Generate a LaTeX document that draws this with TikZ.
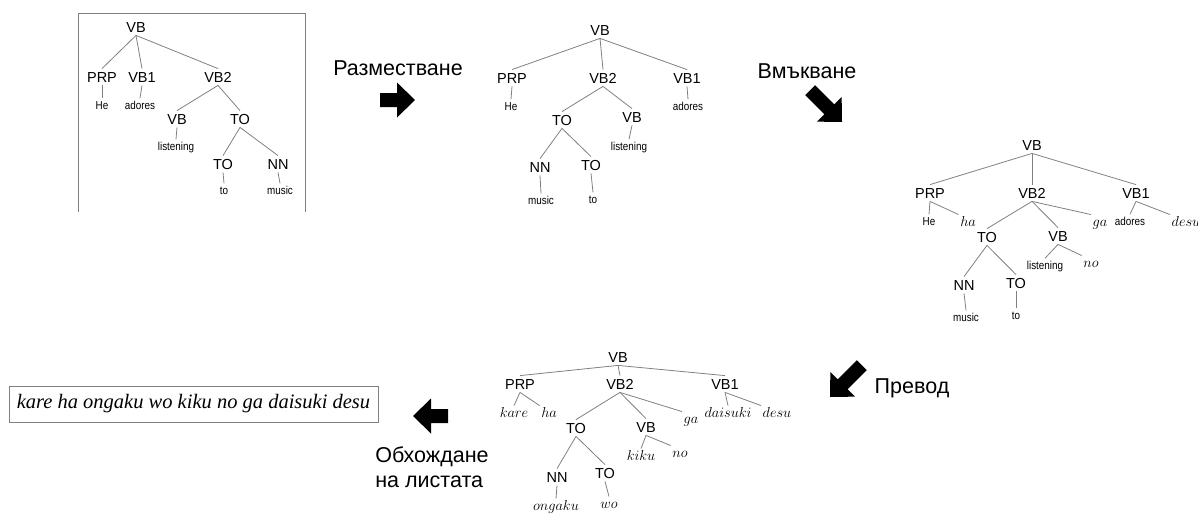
\documentclass[tikz,border=0pt]{standalone}
\usepackage{fontspec}
\newfontfamily\sansfam{Liberation Sans}
\newfontfamily\narrowfam[FakeStretch=0.86]{Liberation Sans}
\newfontfamily\seriffam{Liberation Serif}
\begin{document}
\begin{tikzpicture}[x=1pt,y=-1pt,
  cat/.style={font=\sansfam\fontsize{14.5}{14.5}\selectfont, text height=10.4pt, text depth=0pt, inner xsep=1pt, inner ysep=3pt},
  leaf/.style={font=\narrowfam\fontsize{11.5}{11.5}\selectfont, text height=8pt, text depth=2pt, inner xsep=1pt, inner ysep=2.5pt},
  jp/.style={font=\fontsize{14}{14}\selectfont, text height=9.5pt, text depth=3pt, inner xsep=1.5pt, inner ysep=2pt},
  branch/.style={draw=black!50, line width=0.8pt},
  steplabel/.style={font=\sansfam\fontsize{21.5}{25}\selectfont, inner sep=0pt},
  % block arrow with its tip at the origin; the argument is the shaft length
  blockarrow/.pic={\fill[black] (0,0) -- (-18,-17.5) -- (-18,-7) -- (-18-#1,-7) -- (-18-#1,7) -- (-18,7) -- (-18,17.5) -- cycle;}
]
\useasboundingbox (0,0) rectangle (1198,514);

% ---------- tree 1: source parse ----------
\draw[black!50, line width=0.8pt] (78,212) -- (78,13) -- (305,13) -- (305,212);
\node[cat] (a-vb) at (136,27) {VB};
\node[cat] (a-prp) at (102,77) {PRP};
\node[cat] (a-vb1) at (142,77) {VB1};
\node[cat] (a-vb2) at (218,77) {VB2};
\node[leaf] (a-he) at (102,106) {He};
\node[leaf] (a-adores) at (140,106) {adores};
\node[cat] (a-vbb) at (177,119) {VB};
\node[cat] (a-to) at (240,119) {TO};
\node[leaf] (a-listening) at (176,147) {listening};
\node[cat] (a-toc) at (223,164) {TO};
\node[cat] (a-nn) at (278,164) {NN};
\node[leaf] (a-tow) at (224,191) {to};
\node[leaf] (a-music) at (280,191) {music};
\foreach \p/\c in {vb/prp, vb/vb1, vb/vb2, prp/he, vb1/adores, vb2/vbb, vb2/to,
                   vbb/listening, to/toc, to/nn, toc/tow, nn/music}
  \draw[branch] (a-\p.south) -- (a-\c.north);

% ---------- tree 2: reordered ----------
\node[cat] (b-vb) at (600,30) {VB};
\node[cat] (b-prp) at (512,78) {PRP};
\node[cat] (b-vb2) at (603,78) {VB2};
\node[cat] (b-vb1) at (687,78) {VB1};
\node[leaf] (b-he) at (511,107) {He};
\node[leaf] (b-adores) at (688,107) {adores};
\node[cat] (b-to) at (562,120) {TO};
\node[cat] (b-vbb) at (632,117) {VB};
\node[leaf] (b-listening) at (629,147) {listening};
\node[cat] (b-nn) at (540,167) {NN};
\node[cat] (b-toc) at (591,165) {TO};
\node[leaf] (b-music) at (541,201) {music};
\node[leaf] (b-tow) at (593,200) {to};
\foreach \p/\c in {vb/prp, vb/vb2, vb/vb1, prp/he, vb1/adores, vb2/to, vb2/vbb,
                   vbb/listening, to/nn, to/toc, nn/music, toc/tow}
  \draw[branch] (b-\p.south) -- (b-\c.north);

% ---------- tree 3: particles inserted ----------
\node[cat] (c-vb) at (1032,145) {VB};
\node[cat] (c-prp) at (930,193) {PRP};
\node[cat] (c-vb2) at (1032,193) {VB2};
\node[cat] (c-vb1) at (1136,193) {VB1};
\node[leaf] (c-he) at (929,222) {He};
\node[jp] (c-ha) at (968,223) {$ha$};
\node[jp] (c-ga) at (1100,223) {$ga$};
\node[leaf] (c-adores) at (1130,222) {adores};
\node[jp, anchor=west] (c-desu) at (1170,223) {$desu$};
\node[cat] (c-to) at (987,237) {TO};
\node[cat] (c-vbb) at (1058,236) {VB};
\node[leaf] (c-listening) at (1045,266) {listening};
\node[jp] (c-no) at (1091,264) {$no$};
\node[cat] (c-nn) at (964,285) {NN};
\node[cat] (c-toc) at (1016,283) {TO};
\node[leaf] (c-music) at (966,318) {music};
\node[leaf] (c-tow) at (1016,316) {to};
\foreach \p/\c in {vb/prp, vb/vb2, vb/vb1, prp/he, vb1/adores, vb2/to, vb2/vbb,
                   vbb/listening, to/nn, to/toc, nn/music, toc/tow}
  \draw[branch] (c-\p.south) -- (c-\c.north);
\foreach \p/\c in {prp/ha, vb2/ga, vb1/desu, vbb/no}
  \draw[branch] (c-\p.south) -- (c-\c.north west);

% ---------- tree 4: translated ----------
\node[cat] (d-vb) at (618,357) {VB};
\node[cat] (d-prp) at (520,384) {PRP};
\node[cat] (d-vb2) at (620,384) {VB2};
\node[cat] (d-vb1) at (725,384) {VB1};
\node[jp] (d-kare) at (514,414) {$kare$};
\node[jp] (d-ha) at (549,414) {$ha$};
\node[jp] (d-ga) at (691,420) {$ga$};
\node[jp] (d-daisuki) at (728,414) {$daisuki$};
\node[jp, anchor=west] (d-desu) at (761,414) {$desu$};
\node[cat] (d-to) at (576,428) {TO};
\node[cat] (d-vbb) at (646,427) {VB};
\node[jp] (d-kiku) at (641,457) {$kiku$};
\node[jp] (d-no) at (680,454) {$no$};
\node[cat] (d-nn) at (557,477) {NN};
\node[cat] (d-toc) at (605,473) {TO};
\node[jp] (d-ongaku) at (556,507) {$ongaku$};
\node[jp] (d-wo) at (609,505) {$wo$};
\foreach \p/\c in {vb/prp, vb/vb2, vb/vb1, prp/kare, vb1/daisuki, vb2/to, vb2/vbb,
                   vbb/kiku, to/nn, to/toc, nn/ongaku, toc/wo}
  \draw[branch] (d-\p.south) -- (d-\c.north);
\foreach \p/\c in {prp/ha, vb2/ga, vb1/desu, vbb/no}
  \draw[branch] (d-\p.south) -- (d-\c.north west);

% ---------- result sentence ----------
\node[draw=black!50, line width=0.8pt, minimum width=369pt, minimum height=36pt, inner sep=0pt,
      font=\seriffam\itshape\fontsize{20.5}{20.5}\selectfont] (result) at (193.5,404)
  {kare ha ongaku wo kiku no ga daisuki desu};

% ---------- step arrows and labels ----------
\node[steplabel] (l-reorder) at (398,68) {Разместване};
\pic at (415,100) {blockarrow=17};
\node[steplabel] (l-insert) at (807,71) {Вмъкване};
\pic[rotate=-45] at (842,122) {blockarrow=27};
\node[steplabel] (l-translate) at (912,388) {Превод};
\pic[rotate=-135] at (830,397) {blockarrow=27};
\pic[rotate=180] at (413,416) {blockarrow=17};
\node[steplabel, align=left] (l-read) at (432,467) {Обхождане\\на листата};
\end{tikzpicture}
\end{document}
